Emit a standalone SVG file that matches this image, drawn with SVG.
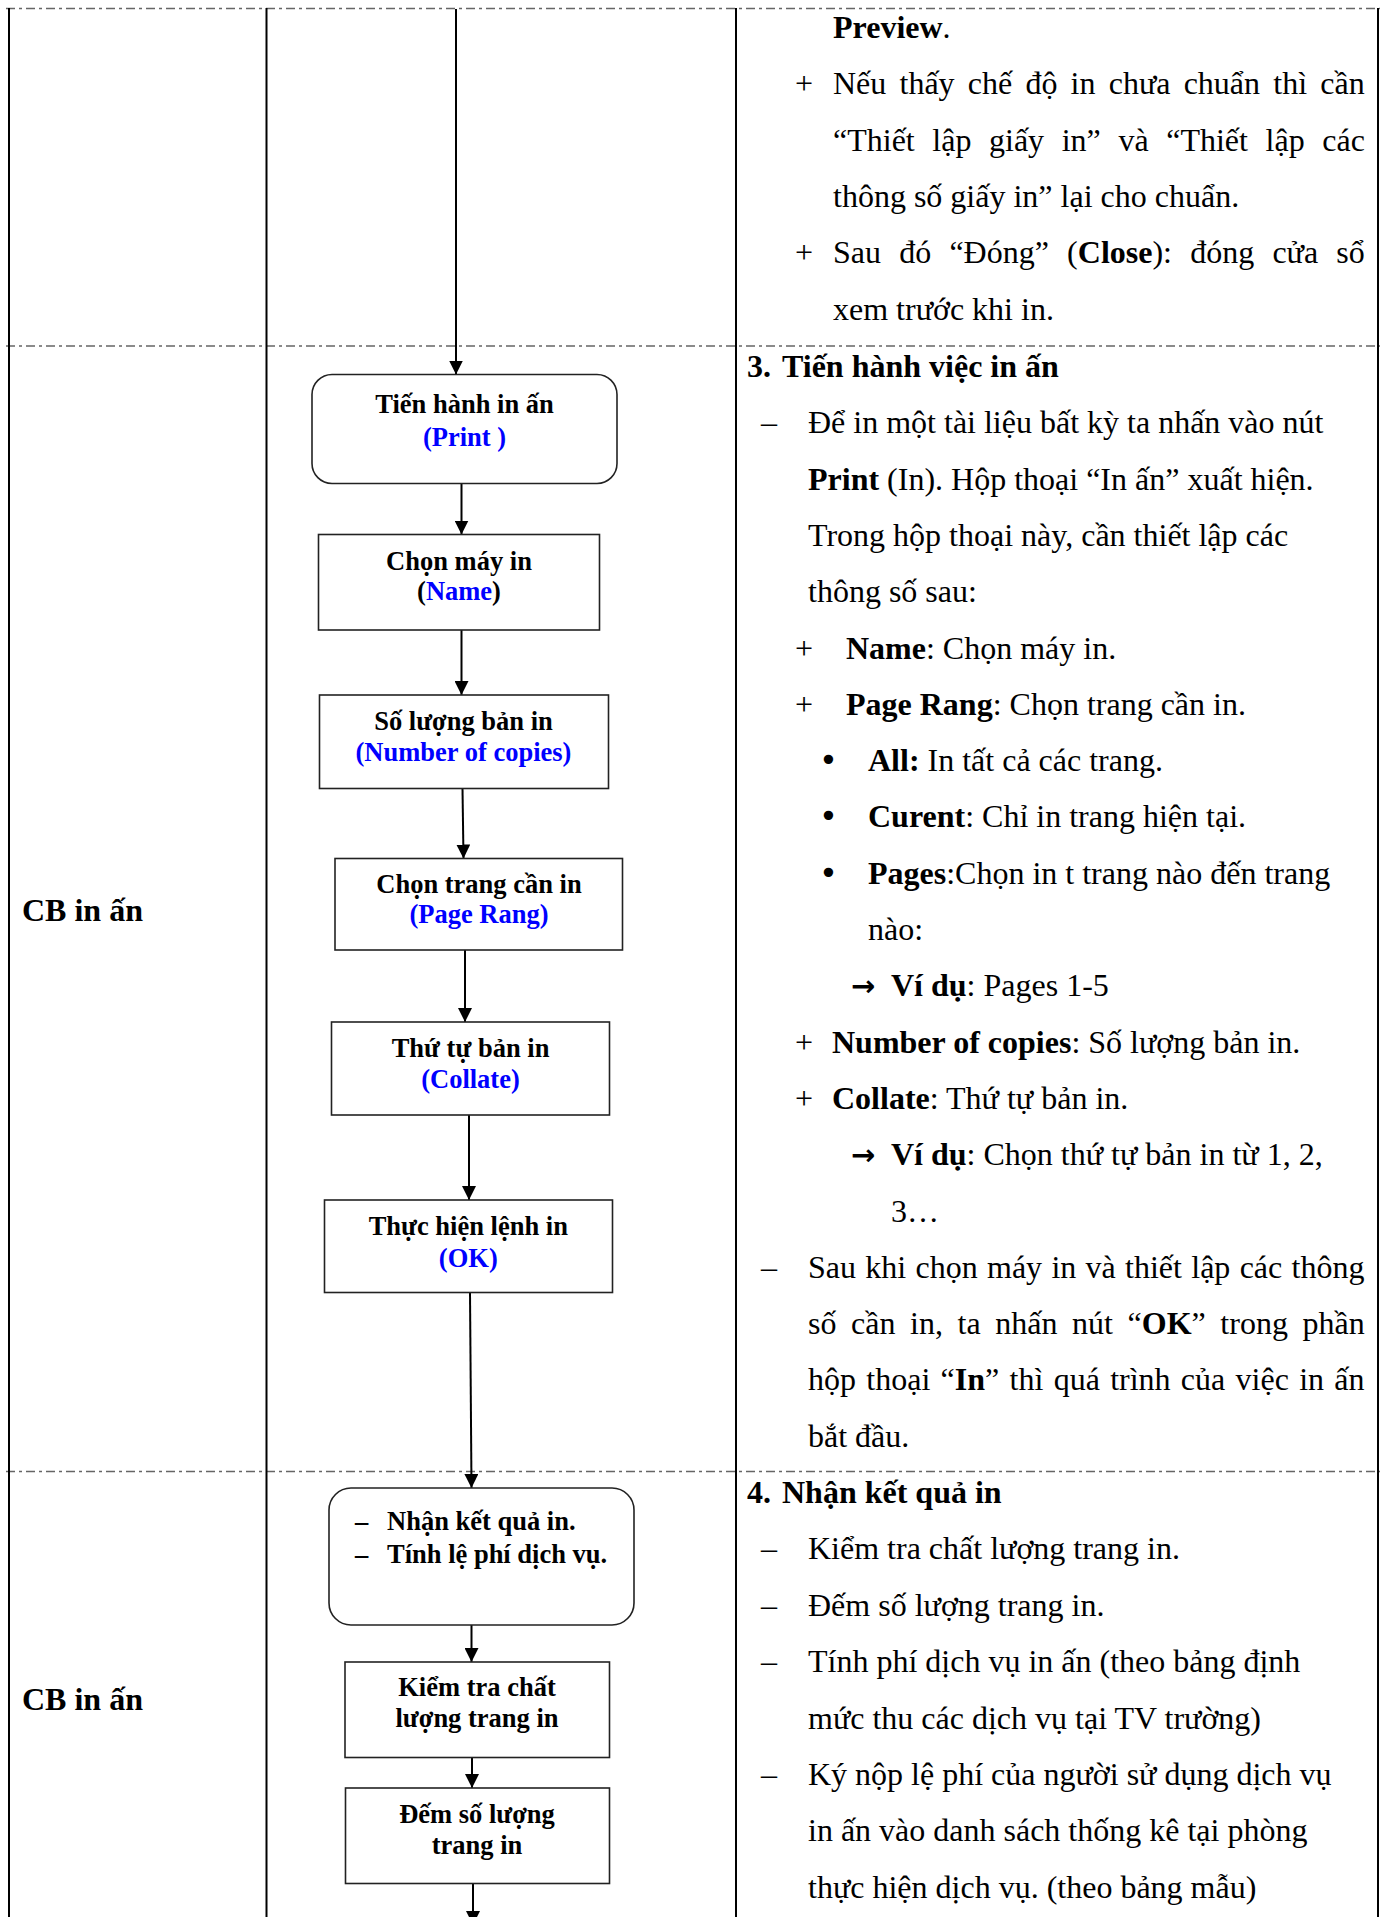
<svg xmlns="http://www.w3.org/2000/svg" width="1384" height="1917" viewBox="0 0 1384 1917">
<style>
.cell{stroke:#000;stroke-width:2;fill:none}
.sep{stroke:#666;stroke-width:1.5;stroke-dasharray:9 4 3 4;fill:none}
.box{fill:#fff;stroke:#222;stroke-width:1.6}
.conn{stroke:#000;stroke-width:2;fill:none;marker-end:url(#ah)}
.bt{font-family:'Liberation Serif','Times New Roman',serif;font-weight:bold;font-size:26.5px;text-anchor:middle;fill:#000}
.bl{font-family:'Liberation Serif','Times New Roman',serif;font-weight:bold;font-size:26.5px;fill:#000}
.blue{fill:#0000ff}
.tx{font-family:'Liberation Serif','Times New Roman',serif;font-size:32px;fill:#000}
.b{font-weight:bold}
.sym{font-family:'DejaVu Sans',sans-serif;font-size:32px;fill:#000}
.arr{font-family:'DejaVu Sans',sans-serif;font-weight:bold;font-size:29px;fill:#000}
.lane{font-family:'Liberation Serif','Times New Roman',serif;font-weight:bold;font-size:32px;fill:#000}
</style>
<defs>
<marker id="ah" markerUnits="userSpaceOnUse" markerWidth="14" markerHeight="14" refX="14" refY="7" orient="auto" viewBox="0 0 14 14"><path d="M0,0 L14,7 L0,14 z" fill="#000"/></marker>
</defs>
<rect width="1384" height="1917" fill="#fff"/>

<g id="table">
<line class="sep" x1="6" y1="8.5" x2="1380" y2="8.5"/>
<line class="sep" x1="6" y1="346" x2="1380" y2="346"/>
<line class="sep" x1="6" y1="1471.5" x2="1380" y2="1471.5"/>
<line class="cell" x1="9" y1="8" x2="9" y2="1917"/>
<line class="cell" x1="266.5" y1="8" x2="266.5" y2="1917"/>
<line class="cell" x1="736" y1="8" x2="736" y2="1917"/>
<line class="cell" x1="1378" y1="8" x2="1378" y2="1917"/>
</g>

<g id="lanes">
<text class="lane" x="22" y="921">CB in ấn</text>
<text class="lane" x="22" y="1710">CB in ấn</text>
</g>

<g id="connectors">
<line class="conn" x1="456" y1="9" x2="456" y2="374.5"/>
<line class="conn" x1="461.5" y1="484" x2="461.5" y2="534.5"/>
<line class="conn" x1="461.5" y1="630" x2="461.5" y2="695"/>
<line class="conn" x1="462.5" y1="788.5" x2="463.5" y2="858.5"/>
<line class="conn" x1="465" y1="950" x2="465" y2="1022"/>
<line class="conn" x1="469" y1="1115" x2="469" y2="1200"/>
<line class="conn" x1="470" y1="1292.5" x2="471.5" y2="1488"/>
<line class="conn" x1="471.5" y1="1625" x2="471.5" y2="1662"/>
<line class="conn" x1="472" y1="1757.5" x2="472" y2="1788"/>
<line class="conn" x1="473" y1="1883.5" x2="473" y2="1925"/>
</g>

<g id="n-print">
<rect class="box" x="312" y="374.5" width="305" height="109" rx="20"/>
<text class="bt" x="464.5" y="413.3">Tiến hành in ấn</text>
<text class="bt blue" x="464.5" y="446">(Print )</text>
</g>
<g id="n-name">
<rect class="box" x="318.5" y="534.5" width="281" height="95.5"/>
<text class="bt" x="459" y="569.5">Chọn máy in</text>
<text class="bt" x="459" y="599.5">(<tspan class="blue">Name</tspan>)</text>
</g>
<g id="n-copies">
<rect class="box" x="319.5" y="695" width="289" height="93.5"/>
<text class="bt" x="463.5" y="729.5">Số lượng bản in</text>
<text class="bt blue" x="463.5" y="760.7">(Number of copies)</text>
</g>
<g id="n-range">
<rect class="box" x="335" y="858.5" width="287.5" height="91.5"/>
<text class="bt" x="479" y="892.7">Chọn trang cần in</text>
<text class="bt blue" x="479" y="923.3">(Page Rang)</text>
</g>
<g id="n-collate">
<rect class="box" x="331.5" y="1022" width="278" height="93"/>
<text class="bt" x="470.5" y="1057.3">Thứ tự bản in</text>
<text class="bt blue" x="470.5" y="1088.3">(Collate)</text>
</g>
<g id="n-ok">
<rect class="box" x="324.5" y="1200" width="288" height="92.5"/>
<text class="bt" x="468.3" y="1235">Thực hiện lệnh in</text>
<text class="bt blue" x="468.3" y="1266.7">(OK)</text>
</g>
<g id="n-result">
<rect class="box" x="329" y="1488" width="305" height="137" rx="22"/>
<text class="bl" x="355" y="1530">–</text>
<text class="bl" x="387" y="1530">Nhận kết quả in.</text>
<text class="bl" x="355" y="1563">–</text>
<text class="bl" x="387" y="1563">Tính lệ phí dịch vụ.</text>
</g>
<g id="n-check">
<rect class="box" x="345" y="1662" width="264.5" height="95.5"/>
<text class="bt" x="477" y="1695.5">Kiểm tra chất</text>
<text class="bt" x="477" y="1727">lượng trang in</text>
</g>
<g id="n-count">
<rect class="box" x="345.5" y="1788" width="264" height="95.5"/>
<text class="bt" x="477" y="1823.4">Đếm số lượng</text>
<text class="bt" x="477" y="1854">trang in</text>
</g>

<g id="notes-top">
<text class="tx" x="833" y="38"><tspan class="b">Preview</tspan>.</text>
<text class="tx" x="795" y="94.3">+</text>
<text class="tx" x="833" y="94.3" word-spacing="5.2">Nếu thấy chế độ in chưa chuẩn thì cần</text>
<text class="tx" x="833" y="150.6" word-spacing="9.6">“Thiết lập giấy in” và “Thiết lập các</text>
<text class="tx" x="833" y="206.9">thông số giấy in” lại cho chuẩn.</text>
<text class="tx" x="795" y="263.2">+</text>
<text class="tx" x="833" y="263.2" word-spacing="10.2">Sau đó “Đóng” (<tspan class="b">Close</tspan>): đóng cửa sổ</text>
<text class="tx" x="833" y="319.5">xem trước khi in.</text>
</g>

<g id="notes-3">
<text class="tx b" x="747" y="377">3.</text>
<text class="tx b" x="782" y="377">Tiến hành việc in ấn</text>
<text class="tx" x="761" y="433.3">–</text>
<text class="tx" x="808" y="433.3">Để in một tài liệu bất kỳ ta nhấn vào nút</text>
<text class="tx" x="808" y="489.6"><tspan class="b">Print</tspan> (In). Hộp thoại “In ấn” xuất hiện.</text>
<text class="tx" x="808" y="545.9">Trong hộp thoại này, cần thiết lập các</text>
<text class="tx" x="808" y="602.2">thông số sau:</text>
<text class="tx" x="795" y="658.5">+</text>
<text class="tx" x="846" y="658.5"><tspan class="b">Name</tspan>: Chọn máy in.</text>
<text class="tx" x="795" y="714.8">+</text>
<text class="tx" x="846" y="714.8"><tspan class="b">Page Rang</tspan>: Chọn trang cần in.</text>
<text class="sym" x="819" y="771.1">•</text>
<text class="tx" x="868" y="771.1"><tspan class="b">All:</tspan> In tất cả các trang.</text>
<text class="sym" x="819" y="827.4">•</text>
<text class="tx" x="868" y="827.4"><tspan class="b">Curent</tspan>: Chỉ in trang hiện tại.</text>
<text class="sym" x="819" y="883.7">•</text>
<text class="tx" x="868" y="883.7"><tspan class="b">Pages</tspan>:Chọn in t trang nào đến trang</text>
<text class="tx" x="868" y="940">nào:</text>
<text class="arr" x="851" y="996.3">→</text>
<text class="tx" x="891" y="996.3"><tspan class="b">Ví dụ</tspan>: Pages 1-5</text>
<text class="tx" x="795" y="1052.6">+</text>
<text class="tx" x="832" y="1052.6"><tspan class="b">Number of copies</tspan>: Số lượng bản in.</text>
<text class="tx" x="795" y="1108.9">+</text>
<text class="tx" x="832" y="1108.9"><tspan class="b">Collate</tspan>: Thứ tự bản in.</text>
<text class="arr" x="851" y="1165.2">→</text>
<text class="tx" x="891" y="1165.2"><tspan class="b">Ví dụ</tspan>: Chọn thứ tự bản in từ 1, 2,</text>
<text class="tx" x="891" y="1221.5">3…</text>
<text class="tx" x="761" y="1277.8">–</text>
<text class="tx" x="808" y="1277.8" word-spacing="1.3">Sau khi chọn máy in và thiết lập các thông</text>
<text class="tx" x="808" y="1334.1" word-spacing="6.6">số cần in, ta nhấn nút “<tspan class="b">OK</tspan>” trong phần</text>
<text class="tx" x="808" y="1390.4" word-spacing="2.3">hộp thoại “<tspan class="b">In</tspan>” thì quá trình của việc in ấn</text>
<text class="tx" x="808" y="1446.7">bắt đầu.</text>
</g>

<g id="notes-4">
<text class="tx b" x="747" y="1503">4.</text>
<text class="tx b" x="782" y="1503">Nhận kết quả in</text>
<text class="tx" x="761" y="1559.4">–</text>
<text class="tx" x="808" y="1559.4">Kiểm tra chất lượng trang in.</text>
<text class="tx" x="761" y="1615.8">–</text>
<text class="tx" x="808" y="1615.8">Đếm số lượng trang in.</text>
<text class="tx" x="761" y="1672.2">–</text>
<text class="tx" x="808" y="1672.2">Tính phí dịch vụ in ấn (theo bảng định</text>
<text class="tx" x="808" y="1728.6">mức thu các dịch vụ tại TV trường)</text>
<text class="tx" x="761" y="1785">–</text>
<text class="tx" x="808" y="1785">Ký nộp lệ phí của người sử dụng dịch vụ</text>
<text class="tx" x="808" y="1841.4">in ấn vào danh sách thống kê tại phòng</text>
<text class="tx" x="808" y="1897.8">thực hiện dịch vụ. (theo bảng mẫu)</text>
</g>
</svg>
